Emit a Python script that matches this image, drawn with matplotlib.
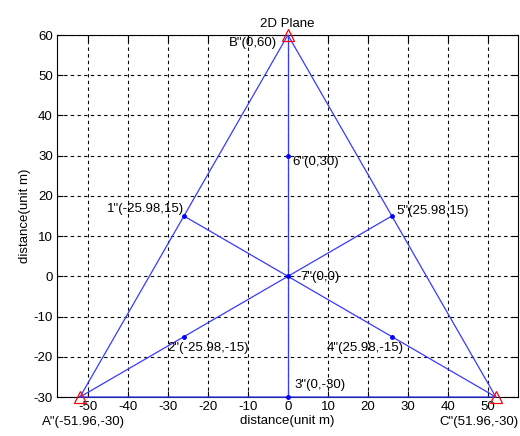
import matplotlib.pyplot as plt

plt.rcParams['font.family'] = ['Liberation Sans', 'DejaVu Sans']
plt.rcParams['font.size'] = 9.5
plt.rcParams['axes.unicode_minus'] = False

# node coordinates
names = ['A', 'B', 'C', '1', '2', '3', '4', '5', '6', '7']
xs = [-51.96, 0, 51.96, -25.98, -25.98, 0, 25.98, 25.98, 0, 0]
ys = [-30, 60, -30, 15, -15, -30, -15, 15, 30, 0]
labels = ['A"(-51.96,-30)', 'B"(0,60)', 'C"(51.96,-30)', '1"(-25.98,15)',
          '2"(-25.98,-15)', '3"(0,-30)', '4"(25.98,-15)', '5"(25.98,15)',
          '6"(0,30)', '7"(0,0)']

# line paths by node name
paths = [['A', 'B', 'C', 'A'], ['A', '2', '7', '5'], ['C', '4', '7', '1'], ['B', '6', '7', '3']]

pos = {n: (x, y) for n, x, y in zip(names, xs, ys)}

fig = plt.figure(figsize=(5.2, 4.36), dpi=100)
ax = fig.add_axes([57 / 520, 1 - 397 / 436, 461 / 520, 362 / 436])

for p in paths:
    ax.plot([pos[n][0] for n in p], [pos[n][1] for n in p], color='#3a3aff',
            lw=0.9, clip_on=False, zorder=3)

mid = [n for n in names if n not in 'ABC']
ax.plot([pos[n][0] for n in mid], [pos[n][1] for n in mid], '.', color='blue',
        ms=5, zorder=4, clip_on=False)
ax.plot([pos[n][0] for n in 'ABC'], [pos[n][1] for n in 'ABC'], '^', mfc='none',
        mec='red', ms=8, mew=0.9, zorder=5, clip_on=False)

# label offsets in pixels and alignment
offs = {'A': (-38, -25, 'left'), 'B': (-11, -8, 'right'), 'C': (-56, -25, 'left'),
        '1': (0, 7, 'right'), '2': (-17, -11, 'left'), '3': (7, 12, 'left'),
        '4': (-65, -11, 'left'), '5': (5, 5, 'left'), '6': (4, -6, 'left'),
        '7': (12, -1, 'left')}
for n, lab in zip(names, labels):
    dx, dy, ha = offs[n]
    ax.annotate(lab, pos[n], xytext=(dx, dy), textcoords='offset pixels',
                ha=ha, va='center', annotation_clip=False, zorder=6)

ax.set_xlim(-57.7, 57.5)
ax.set_ylim(-30, 60)
ax.set_xticks(range(-50, 51, 10))
ax.set_yticks(range(-30, 61, 10))
ax.tick_params(direction='in', length=4, width=0.8, top=True, right=True, pad=3)
ax.grid(True, color='black', linestyle=(0, (3, 3)), lw=0.8)
for s in ax.spines.values():
    s.set_linewidth(0.8)

ax.set_title('2D Plane', pad=6, fontsize=9.5)
ax.set_xlabel('distance(unit m)', labelpad=1)
ax.set_ylabel('distance(unit m)', labelpad=2)

fig.savefig('out.png', dpi=100)
